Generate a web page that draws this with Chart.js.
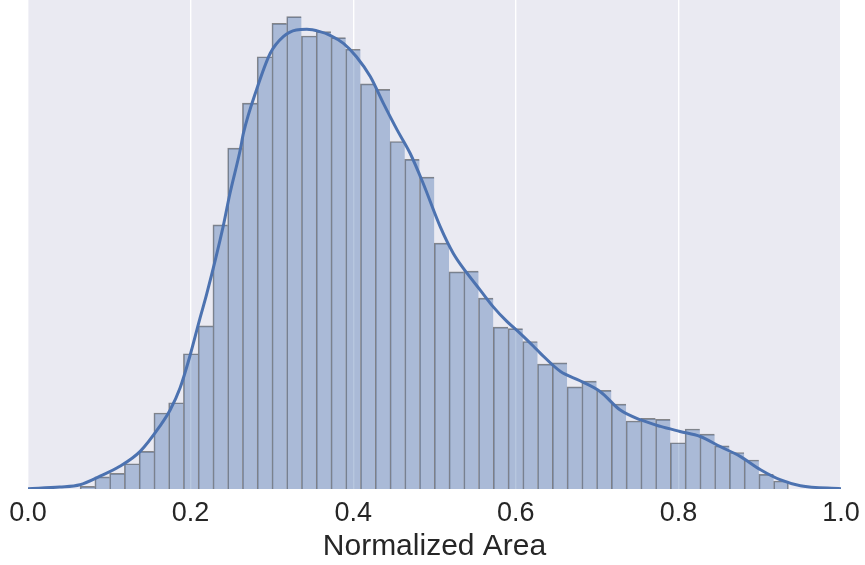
<!DOCTYPE html>
<html>
<head>
<meta charset="utf-8">
<title>Normalized Area</title>
<script src="https://cdn.jsdelivr.net/npm/chart.js@4.4.1/dist/chart.umd.min.js"></script>
<style>
    html, body { margin: 0; padding: 0; background: #ffffff; }
    #wrap { width: 865px; height: 565px; }
</style>
</head>
<body>
<div id="wrap"><canvas id="histChart" width="865" height="565"></canvas></div>
<script>
// ==================== DATA ====================

// histogram bins: left edge of first bin and bin width (normalized area units)
const binStart = 0.0641;
const binWidth = 0.01815;

// density of each bin
const binDensity = [
    0.016, 0.074, 0.096, 0.155, 0.231, 0.466, 0.529, 0.830, 1.001, 1.620,
    2.091, 2.367, 2.652, 2.857, 2.898, 2.779, 2.806, 2.769, 2.698, 2.485,
    2.452, 2.132, 2.022, 1.913, 1.508, 1.332, 1.337, 1.171, 0.993, 0.984,
    0.905, 0.766, 0.774, 0.627, 0.662, 0.605, 0.521, 0.417, 0.433, 0.427,
    0.284, 0.368, 0.337, 0.265, 0.224, 0.178, 0.090, 0.049
];

// kde curve
const kdeX = [
    0.000, 0.039, 0.064, 0.088, 0.113, 0.138, 0.162, 0.175, 0.187, 0.199,
    0.211, 0.220, 0.240, 0.248, 0.261, 0.265, 0.281, 0.298, 0.314, 0.330,
    0.343, 0.359, 0.371, 0.388, 0.404, 0.421, 0.437, 0.454, 0.470, 0.486,
    0.507, 0.523, 0.540, 0.556, 0.572, 0.589, 0.605, 0.622, 0.630, 0.655,
    0.679, 0.704, 0.728, 0.753, 0.778, 0.802, 0.827, 0.851, 0.876, 0.901,
    0.925, 0.950, 1.000
];
const kdeY = [
    0.002, 0.012, 0.026, 0.077, 0.139, 0.231, 0.384, 0.486, 0.619, 0.813,
    1.038, 1.200, 1.610, 1.804, 2.080, 2.183, 2.448, 2.673, 2.775, 2.816,
    2.820, 2.806, 2.785, 2.734, 2.652, 2.530, 2.367, 2.203, 2.060, 1.876,
    1.610, 1.447, 1.324, 1.222, 1.119, 1.028, 0.956, 0.874, 0.834, 0.721,
    0.664, 0.597, 0.486, 0.425, 0.384, 0.353, 0.322, 0.261, 0.200, 0.118,
    0.057, 0.020, 0.002
];

const xTicks = [0, 0.2, 0.4, 0.6, 0.8, 1.0];
const xLabel = 'Normalized Area';

// ==================== CHART ====================

const FONT = '"Liberation Sans", Arial, sans-serif';
const TEXT = '#262626';
const BLUE = '#4C72B0';

// grey plot area like the seaborn darkgrid style
const plotBackground = {
    id: 'plotBackground',
    beforeDraw(chart) {
        const { ctx, chartArea: a } = chart;
        ctx.save();
        ctx.fillStyle = '#EAEAF2';
        ctx.fillRect(a.left, a.top, a.right - a.left, a.bottom - a.top);
        ctx.restore();
    }
};

const bars = binDensity.map((d, i) => ({ x: binStart + (i + 0.5) * binWidth, y: d }));
const kde = kdeX.map((x, i) => ({ x: x, y: kdeY[i] }));
const lastBar = binDensity.length - 1;

const ctx = document.getElementById('histChart').getContext('2d');

new Chart(ctx, {
    type: 'bar',
    data: {
        datasets: [
            {
                type: 'line',
                data: kde,
                borderColor: BLUE,
                borderWidth: 3,
                pointRadius: 0,
                cubicInterpolationMode: 'monotone',
                fill: false,
                order: 0
            },
            {
                type: 'bar',
                data: bars,
                backgroundColor: 'rgba(76, 114, 176, 0.4)',
                borderColor: 'rgba(50, 50, 50, 0.55)',
                borderWidth: (c) => ({ top: 1, left: 1, right: c.dataIndex === lastBar ? 1 : 0, bottom: 0 }),
                borderSkipped: false,
                barPercentage: 1,
                categoryPercentage: 1,
                grouped: false,
                order: 1
            }
        ]
    },
    options: {
        responsive: false,
        devicePixelRatio: 1,
        animation: false,
        layout: {
            padding: { left: 28, right: 24, top: 0, bottom: 0 }
        },
        scales: {
            x: {
                type: 'linear',
                min: 0,
                max: 1,
                offset: false,
                afterBuildTicks: (scale) => {
                    scale.ticks = xTicks.map(v => ({ value: v }));
                },
                afterFit: (scale) => {
                    scale.height = 76;
                    // labels may hang over the edges, keep the plot box fixed
                    scale.paddingLeft = 0;
                    scale.paddingRight = 0;
                },
                grid: {
                    color: '#ffffff',
                    lineWidth: 1.4,
                    offset: false,
                    drawTicks: false
                },
                border: { display: false },
                ticks: {
                    color: TEXT,
                    padding: 8,
                    font: { family: FONT, size: 27 },
                    callback: (v) => Number(v).toFixed(1)
                },
                title: {
                    display: true,
                    text: xLabel,
                    color: TEXT,
                    padding: { top: 0, bottom: 0 },
                    font: { family: FONT, size: 30 }
                }
            },
            y: {
                display: false,
                min: 0,
                max: 3.0
            }
        },
        plugins: {
            legend: { display: false },
            tooltip: { enabled: false }
        }
    },
    plugins: [plotBackground]
});
</script>
</body>
</html>
